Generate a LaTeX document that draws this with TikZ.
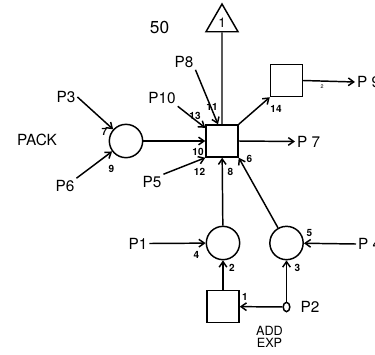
\documentclass[tikz,border=0pt]{standalone}
\usepackage{fontspec}
\setmainfont{TeX Gyre Heros}
\usetikzlibrary{arrows.meta, shapes.geometric}
\newcommand{\arcNum}[3]{
  \node[num] (#1) at (#2) {#3};
}

\begin{document}
\begin{tikzpicture}[x=0.75pt, y=-0.75pt, line width=1.1pt,
    >={Straight Barb[angle=70:5pt]},
    trans/.style={draw, minimum size=24pt, inner sep=0pt},
    place/.style={circle, draw, minimum size=25pt, inner sep=0pt},
    lbl/.style={font=\fontsize{11.5}{12}\selectfont, inner sep=1pt},
    num/.style={font=\fontsize{7.5}{8}\selectfont\bfseries, inner sep=0pt}]
  \useasboundingbox (0,0) rectangle (375,354);
  % transitions and places
  \node[trans] (core) at (222,141) {};
  \node[trans] (outbox) at (286.5,80.5) {};
  \node[trans] (addbox) at (223,306.5) {};
  \node[place] (pack) at (126,141) {};
  \node[place] (pa) at (223,243) {};
  \node[place] (pb) at (286.5,243) {};
  \node[ellipse, draw, minimum width=5pt, minimum height=7pt, inner sep=0pt] (ptwo) at (286.5,307) {};
  \node[regular polygon, regular polygon sides=3, draw, minimum size=27.75pt, inner sep=0pt,
        font=\fontsize{10}{10}\selectfont] (flag) at (222,22.5) {1};
  % texts
  \node[font=\fontsize{13}{13}\selectfont] (fifty) at (159.5,27.5) {50};
  \node[lbl] (lpack) at (37,140) {PACK};
  \node[lbl] (lP3) at (66,97) {P3};
  \node[lbl] (lP6) at (65,186) {P6};
  \node[lbl] (lP8) at (184,62) {P8};
  \node[lbl] (lP10) at (162,98.5) {P10};
  \node[lbl] (lP5) at (152,182) {P5};
  \node[lbl, anchor=west] (lP7) at (295,141.5) {P 7};
  \node[lbl, anchor=west] (lP9) at (355,82) {P 9};
  \node[lbl] (lP1) at (138,243.5) {P1};
  \node[lbl, anchor=west] (lP4) at (356,244) {P 4};
  \node[lbl] (lP2) at (310,307) {P2};
  \node[font=\fontsize{9.5}{9}\selectfont, align=center, inner sep=0pt] (laddexp) at (269.5,336.5) {ADD\\EXP};
  % connectors
  \draw[->] (lP3.east) -- (pack);
  \draw[->] (lP6.north east) -- (pack);
  \draw[->] (pack) -- (core);
  \draw[->] (lP10.south east) -- (core);
  \draw[->] (lP8.south east) -- ([xshift=-3pt]core.north);
  \draw[->] (lP5.north east) -- (core.south west);
  \draw (core.north) -- (flag.south);
  \draw[->] (core.north east) -- (outbox.south west);
  \draw[->] (outbox.east) -- (lP9.west);
  \draw[->] (core.east) -- (lP7.west);
  \draw[->] (pa) -- (core);
  \draw[->] (pb) -- (core.south east);
  \draw[->] (lP1.east) -- (pa);
  \draw[->] (lP4.west) -- (pb);
  \draw[->] (addbox) -- (pa);
  \draw[->] (ptwo) -- (addbox);
  \draw[->] (ptwo) -- (pb);
  % arc numbers
  \arcNum{n7}{104.5,131.5}{7}
  \arcNum{n9}{111.5,168.5}{9}
  \arcNum{n13}{195,115.5}{13}
  \arcNum{n11}{212,107}{11}
  \arcNum{n14}{276,108.5}{14}
  \arcNum{n10}{198,152}{10}
  \arcNum{n12}{199.5,171.5}{12}
  \arcNum{n8}{230.5,171.5}{8}
  \arcNum{n6}{249.5,158.5}{6}
  \arcNum{n4}{196.5,254.5}{4}
  \arcNum{n2}{232,267.5}{2}
  \arcNum{n5}{309.5,232.5}{5}
  \arcNum{n3}{297.5,267.5}{3}
  \arcNum{n1}{245,296.5}{1}
  \node[font=\fontsize{4}{4}\selectfont] (ntwo) at (322,87) {2};
\end{tikzpicture}
\end{document}
